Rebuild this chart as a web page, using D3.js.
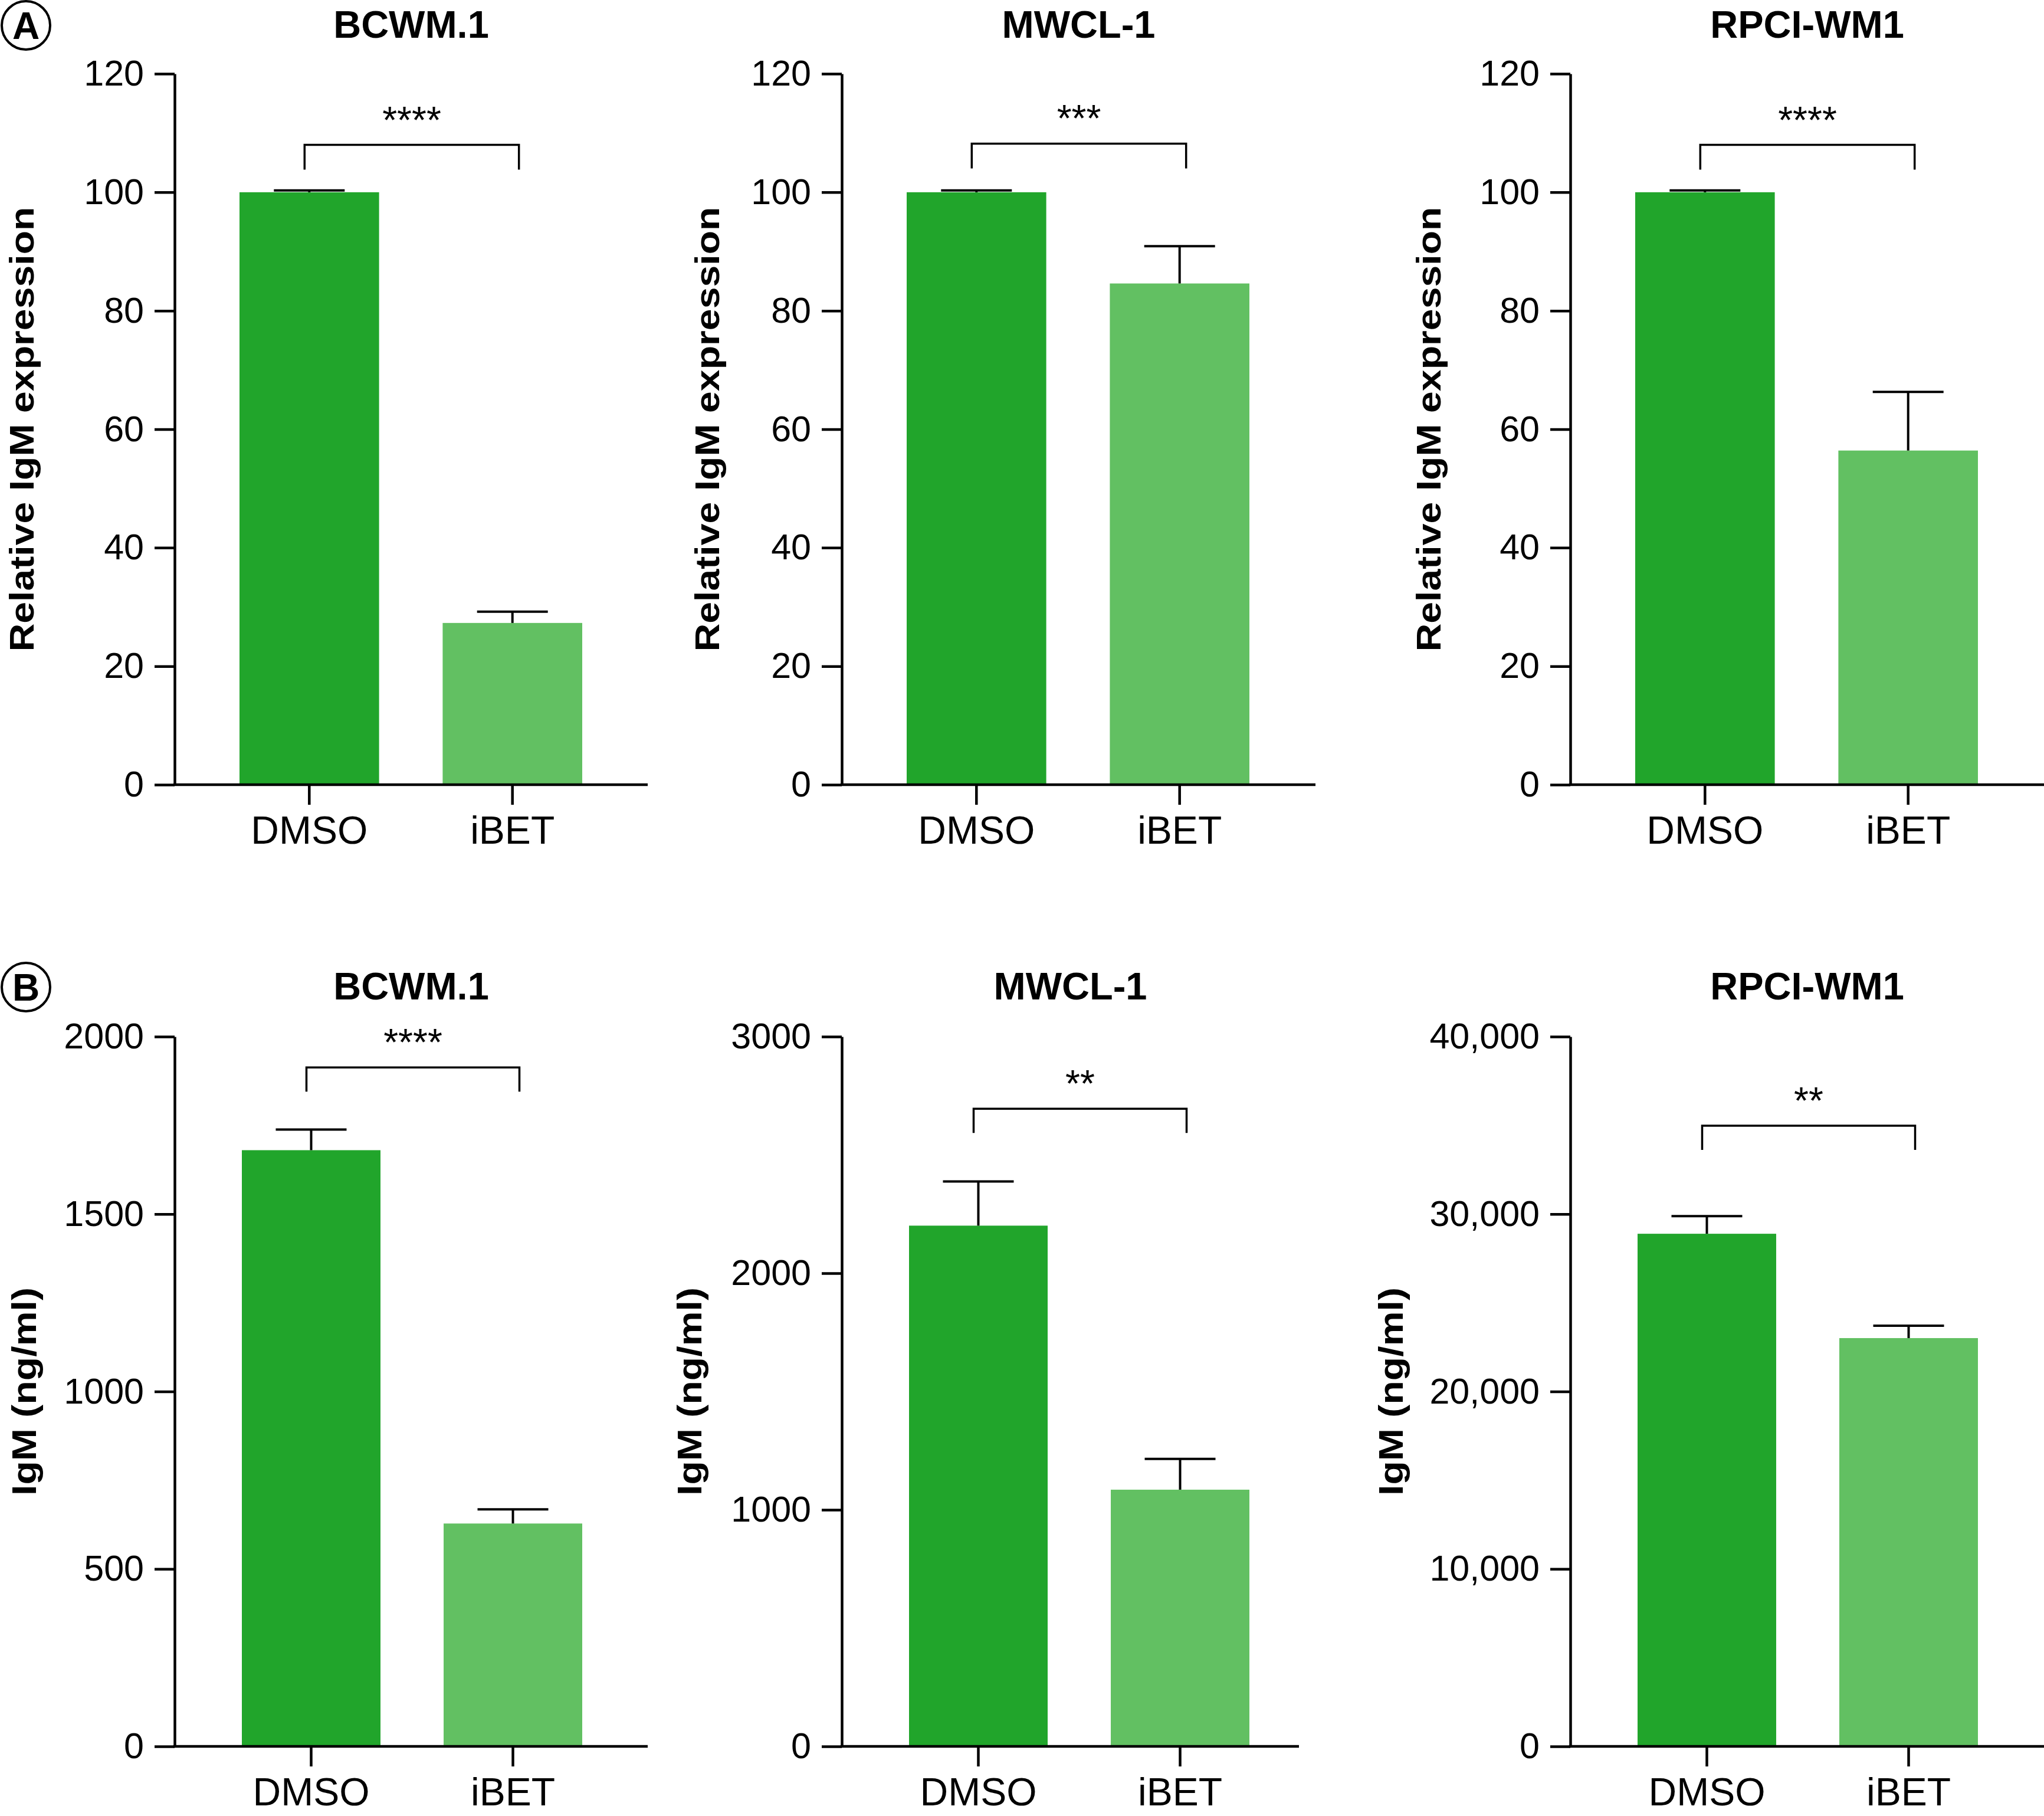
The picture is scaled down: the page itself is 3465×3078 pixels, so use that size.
<!DOCTYPE html>
<html><head><meta charset="utf-8">
<script src="https://cdn.jsdelivr.net/npm/d3@7"></script>
<style>
html,body{margin:0;padding:0;background:#fff;}
svg{display:block;}
text{font-family:"Liberation Sans",Arial,Helvetica,sans-serif;fill:#000;}
</style>
</head><body><div id="chart"></div>
<script>
// ---------- data ----------
const categories = ["DMSO", "iBET"];
const cellLines = ["BCWM.1", "MWCL-1", "RPCI-WM1"];
const panelLetters = ["A", "B"];

const relMeans = [[100, 27.3], [100, 84.6], [100, 56.4]];
const relSem = [[0.3, 1.9], [0.3, 6.3], [0.3, 9.9]];
const relSig = ["****", "***", "****"];
const relBracket = [108, 108.2, 108];
const relTicks = [0, 20, 40, 60, 80, 100, 120];
const relLabel = "Relative IgM expression";

const igmMeans = [[1680, 628], [2201, 1085], [28890, 23010]];
const igmSem = [[58, 40], [187, 130], [990, 700]];
const igmSig = ["****", "**", "**"];
const igmBracket = [1913, 2695, 34980];
const igmTicks = [[0, 500, 1000, 1500, 2000], [0, 1000, 2000, 3000], [0, 10000, 20000, 30000, 40000]];
const igmTickLabels = [["0", "500", "1000", "1500", "2000"], ["0", "1000", "2000", "3000"], ["0", "10,000", "20,000", "30,000", "40,000"]];
const igmLabel = "IgM (ng/ml)";

const barColors = ["#21a52b", "#62c062"];

// ---------- layout ----------
const W = 3465, H = 3078;
const axisX = [296, 1427, 2662];
const rows = [
  {top: 125, bottom: 1330, titleY: 64, letterY: 43, axisLen: [802, 803, 803], barStart: 110, labelX: [42, 1204, 2427], legLen: 42, labelLen: 754,
   means: relMeans, sem: relSem, sig: relSig, bracket: relBracket, ticks: () => relTicks, tickLabels: () => relTicks.map(String), label: relLabel},
  {top: 1757, bottom: 2960, titleY: 1694, letterY: 1673, axisLen: [802, 775, 803], barStart: 114, labelX: [46, 1174, 2363], legLen: 41, labelLen: 353,
   means: igmMeans, sem: igmSem, sig: igmSig, bracket: igmBracket, ticks: i => igmTicks[i], tickLabels: i => igmTickLabels[i], label: igmLabel}
];

const svg = d3.select("#chart").append("svg").attr("width", W).attr("height", H)
  .attr("viewBox", `0 0 ${W} ${H}`);
svg.append("rect").attr("width", W).attr("height", H).attr("fill", "#fff");

const AX_W = 4.5;
const FONT = "Liberation Sans, Arial, sans-serif";

rows.forEach((row, r) => {
  // panel letter
  const lg = svg.append("g").attr("transform", `translate(44,${row.letterY})`);
  lg.append("circle").attr("r", 41).attr("fill", "none").attr("stroke", "#000").attr("stroke-width", 4);
  lg.append("text").attr("text-anchor", "middle").attr("y", 23).attr("font-size", 64).attr("font-weight", "bold").text(panelLetters[r]);

  cellLines.forEach((name, c) => {
    const ax = axisX[c];
    const ticks = row.ticks(c);
    const tlabels = row.tickLabels(c);
    const y = d3.scaleLinear().domain([0, d3.max(ticks)]).range([row.bottom, row.top]);
    const x = d3.scaleBand().domain(categories).range([ax + row.barStart, ax + 691]).paddingInner(0.313).paddingOuter(0);
    const g = svg.append("g");

    // bars
    g.selectAll("rect.bar").data(categories).enter().append("rect")
      .attr("x", d => x(d)).attr("width", x.bandwidth())
      .attr("y", (d, i) => y(row.means[c][i]))
      .attr("height", (d, i) => y(0) - y(row.means[c][i]))
      .attr("fill", (d, i) => barColors[i]);

    // error bars
    categories.forEach((cat, i) => {
      const cx = x(cat) + x.bandwidth() / 2;
      const top = y(row.means[c][i] + row.sem[c][i]);
      g.append("line").attr("x1", cx).attr("x2", cx).attr("y1", y(row.means[c][i])).attr("y2", top)
        .attr("stroke", "#000").attr("stroke-width", 4);
      g.append("line").attr("x1", cx - 60).attr("x2", cx + 60).attr("y1", top).attr("y2", top)
        .attr("stroke", "#000").attr("stroke-width", 4);
    });

    // y axis
    const yAxis = d3.axisLeft(y).tickValues(ticks).tickSize(34).tickSizeOuter(0).tickPadding(18)
      .tickFormat((d, i) => tlabels[i]);
    const yg = g.append("g").attr("transform", `translate(${ax},0)`).call(yAxis);
    yg.selectAll("path.domain").attr("stroke", "#000").attr("stroke-width", AX_W);
    yg.selectAll(".tick line").attr("stroke", "#000").attr("stroke-width", AX_W);
    yg.selectAll(".tick text").attr("font-size", 61).attr("font-family", FONT).attr("fill", "#000");

    // x axis
    const xAxis = d3.axisBottom(x).tickSize(34).tickSizeOuter(0).tickPadding(19);
    const xg = g.append("g").attr("transform", `translate(0,${row.bottom})`).call(xAxis);
    xg.select("path.domain").attr("d", `M${ax - AX_W / 2},0H${ax + row.axisLen[c]}`)
      .attr("stroke", "#000").attr("stroke-width", AX_W);
    xg.selectAll(".tick line").attr("stroke", "#000").attr("stroke-width", AX_W);
    xg.selectAll(".tick text").attr("font-size", 66).attr("font-family", FONT).attr("fill", "#000");

    // significance bracket
    const bx0 = x(categories[0]) + x.bandwidth() / 2 - 8;
    const bx1 = x(categories[1]) + x.bandwidth() / 2 + 11;
    const by = y(row.bracket[c]);
    g.append("path").attr("d", `M${bx0},${by + row.legLen}V${by}H${bx1}V${by + row.legLen}`)
      .attr("fill", "none").attr("stroke", "#000").attr("stroke-width", 3.5);
    g.append("text").attr("x", (bx0 + bx1) / 2).attr("y", by - 20).attr("text-anchor", "middle")
      .attr("font-size", 64).text(row.sig[c]);

    // title
    g.append("text").attr("x", ax + row.axisLen[c] / 2).attr("y", row.titleY).attr("text-anchor", "middle")
      .attr("font-size", 65).attr("font-weight", "bold").text(name);

    // y label
    g.append("text")
      .attr("transform", `translate(${row.labelX[c] + 14.8},${(row.top + row.bottom) / 2}) rotate(-90)`)
      .attr("text-anchor", "middle").attr("font-size", 58).attr("font-weight", "bold")
      .attr("textLength", row.labelLen).attr("lengthAdjust", "spacingAndGlyphs")
      .text(row.label);
  });
});
</script>
</body></html>
